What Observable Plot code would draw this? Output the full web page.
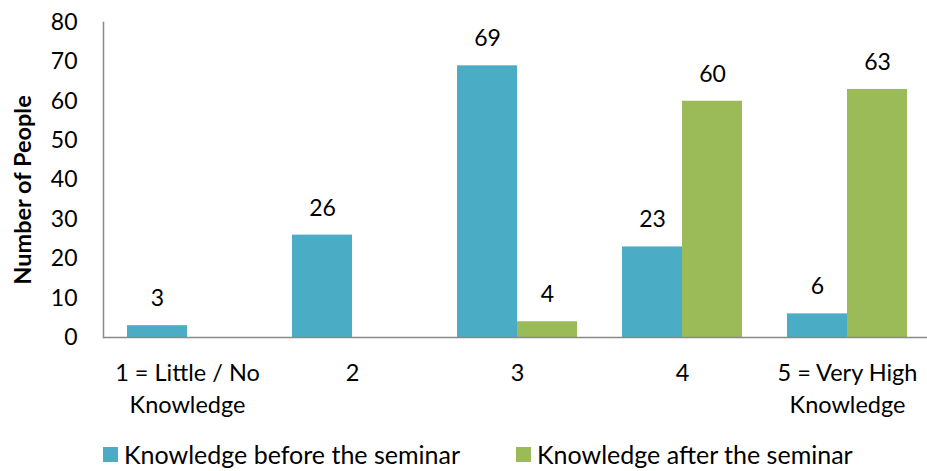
<!DOCTYPE html>
<html>
<head>
<meta charset="utf-8">
<script src="https://cdn.jsdelivr.net/npm/d3@7"></script>
<script src="https://cdn.jsdelivr.net/npm/@observablehq/plot@0.6"></script>
<style>
  body { margin: 0; background: #fff; font-family: Lato, "Open Sans", sans-serif; }
  #wrap { position: relative; width: 927px; height: 471px; overflow: hidden; }
  #legend { position: absolute; left: 0; top: 439px; width: 927px; font-size: 25px; line-height: 30px; color: #000; }
  .item { position: absolute; display: flex; align-items: center; white-space: nowrap; }
  .sw { width: 15px; height: 15px; margin-right: 6px; }
</style>
</head>
<body>
<div id="wrap"><div id="chart"></div><div id="legend"></div></div>
<script>
const categories = ["1 = Little / No\nKnowledge", "2", "3", "4", "5 = Very High\nKnowledge"];
const seriesNames = ["Knowledge before the seminar", "Knowledge after the seminar"];
const before = [3, 26, 69, 23, 6];
const after = [null, null, 4, 60, 63];
const yTicks = [0, 10, 20, 30, 40, 50, 60, 70, 80];
const colors = ["#4BACC6", "#9BBB59"];

const data = [];
categories.forEach((c, i) => {
  if (before[i] != null) data.push({cat: c, series: seriesNames[0], value: before[i]});
  if (after[i] != null) data.push({cat: c, series: seriesNames[1], value: after[i]});
});
const dBefore = data.filter(d => d.series === seriesNames[0]);
const dAfter = data.filter(d => d.series === seriesNames[1]);

const W = 927, ML = 103;
const step = 165.25, padInner = 0.274, padOuter = 0.1434;
const xRange = [ML, ML + step * (categories.length - padInner + 2 * padOuter)];
const bw = step * (1 - padInner);
const half = bw / 2;
const FONT = "Lato, 'Open Sans', sans-serif";

const chart = Plot.plot({
  width: W,
  height: 420,
  marginLeft: ML,
  marginRight: 0,
  marginTop: 22,
  marginBottom: 83,
  style: {fontFamily: FONT, fontSize: "23px", color: "#000", background: "#fff", overflow: "hidden"},
  x: {domain: categories, range: xRange, paddingInner: padInner, paddingOuter: padOuter, label: null},
  y: {domain: [0, 80], label: null},
  marks: [
    Plot.barY(dBefore, {x: "cat", y: "value", fill: colors[0], insetRight: half}),
    Plot.barY(dAfter, {x: "cat", y: "value", fill: colors[1], insetLeft: half}),
    Plot.text(dBefore, {x: "cat", y: "value", text: d => String(d.value), dx: -half / 2, dy: -27, fontSize: 23, fill: "#000"}),
    Plot.text(dAfter, {x: "cat", y: "value", text: d => String(d.value), dx: half / 2, dy: -27, fontSize: 23, fill: "#000"}),
    Plot.axisY({ticks: yTicks, tickSize: 0, tickPadding: 26, fontSize: 23, label: null}),
    Plot.axisX({tickSize: 0, tickPadding: 20, fontSize: 23.5, label: null, lineHeight: 1.38}),
    Plot.ruleY([0], {stroke: "#898989", strokeWidth: 1.5}),
    Plot.frame({anchor: "left", stroke: "#898989", strokeWidth: 1.5})
  ]
});
document.getElementById("chart").appendChild(chart);

// y-axis title
const svg = d3.select(chart);
svg.append("text")
  .attr("transform", "translate(31,190) rotate(-90)")
  .attr("text-anchor", "middle")
  .attr("font-family", FONT)
  .attr("font-weight", "bold")
  .attr("font-size", 23.5)
  .attr("fill", "#000")
  .text("Number of People");

const legend = document.getElementById("legend");
const legendX = [103, 516];
seriesNames.forEach((s, i) => {
  const it = document.createElement("div");
  it.className = "item";
  it.style.left = legendX[i] + "px";
  it.innerHTML = `<span class="sw" style="background:${colors[i]}"></span><span>${s}</span>`;
  legend.appendChild(it);
});
</script>
</body>
</html>
